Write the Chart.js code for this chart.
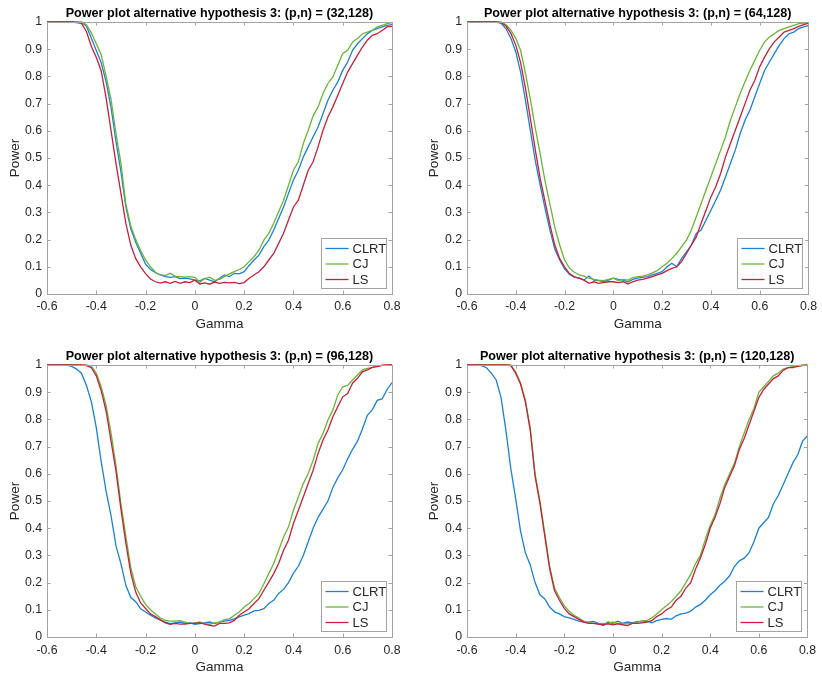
<!DOCTYPE html>
<html>
<head>
<meta charset="utf-8">
<script src="https://cdn.jsdelivr.net/npm/chart.js@4.4.1/dist/chart.umd.min.js"></script>
<style>
  html, body { margin: 0; padding: 0; background: #fff; overflow: hidden; }
  canvas { position: absolute; }
</style>
</head>
<body>
<canvas id="c1" width="411" height="337" style="left:0;top:0"></canvas>
<canvas id="c2" width="411" height="337" style="left:411px;top:0"></canvas>
<canvas id="c3" width="411" height="338" style="left:0;top:337px"></canvas>
<canvas id="c4" width="411" height="338" style="left:411px;top:337px"></canvas>
<script>
// gamma grid, -0.6 .. 0.8
const gamma = [-0.60,-0.58,-0.56,-0.54,-0.52,-0.50,-0.48,-0.46,-0.44,-0.42,-0.40,-0.38,-0.36,-0.34,-0.32,-0.30,-0.28,-0.26,-0.24,-0.22,-0.20,-0.18,-0.16,-0.14,-0.12,-0.10,-0.08,-0.06,-0.04,-0.02,0.00,0.02,0.04,0.06,0.08,0.10,0.12,0.14,0.16,0.18,0.20,0.22,0.24,0.26,0.28,0.30,0.32,0.34,0.36,0.38,0.40,0.42,0.44,0.46,0.48,0.50,0.52,0.54,0.56,0.58,0.60,0.62,0.64,0.66,0.68,0.70,0.72,0.74,0.76,0.78,0.80];

const seriesNames = ['CLRT', 'CJ', 'LS'];
const xTicks = [-0.6, -0.4, -0.2, 0, 0.2, 0.4, 0.6, 0.8];
const yTicks = [0, 0.1, 0.2, 0.3, 0.4, 0.5, 0.6, 0.7, 0.8, 0.9, 1];

// (p,n) = (32,128)
const clrt32 = [1,1,1,1,1,1,1,.998,.985,.94,.895,.85,.78,.685,.56,.45,.32,.24,.19,.15,.11,.09,.078,.07,.064,.061,.064,.057,.058,.056,.051,.048,.057,.051,.045,.058,.07,.064,.076,.074,.082,.105,.125,.143,.174,.198,.235,.278,.32,.37,.419,.455,.504,.541,.578,.614,.663,.712,.749,.78,.822,.853,.896,.92,.939,.957,.969,.976,.982,.988,.99];
const cj32 = [1,1,1,1,1,1,1,1,.99,.96,.92,.88,.80,.715,.59,.48,.33,.25,.2,.16,.125,.1,.08,.07,.068,.076,.066,.064,.062,.064,.061,.043,.057,.062,.05,.054,.064,.074,.082,.09,.1,.119,.137,.161,.198,.223,.26,.302,.345,.4,.455,.486,.553,.602,.655,.688,.737,.774,.798,.841,.884,.896,.927,.939,.957,.963,.969,.982,.988,.994,.998];
const ls32 = [1,1,1,1,1,1,.998,.995,.965,.91,.87,.82,.72,.60,.48,.37,.26,.18,.13,.1,.075,.055,.045,.04,.045,.039,.046,.039,.045,.042,.051,.037,.041,.036,.044,.039,.043,.041,.043,.038,.042,.058,.07,.082,.1,.125,.149,.186,.223,.272,.32,.345,.4,.455,.486,.541,.602,.651,.688,.731,.774,.816,.847,.878,.908,.933,.951,.957,.969,.982,.984];

// (p,n) = (64,128)
const clrt64 = [1,1,1,1,1,1,1,.995,.975,.94,.89,.815,.71,.6,.49,.4,.315,.235,.165,.125,.092,.073,.062,.058,.051,.066,.051,.049,.045,.051,.058,.054,.051,.045,.054,.058,.061,.064,.07,.076,.082,.1,.113,.1,.131,.155,.18,.223,.235,.272,.308,.345,.382,.431,.48,.529,.59,.639,.676,.725,.774,.822,.853,.884,.914,.939,.957,.963,.976,.982,.988];
const cj64 = [1,1,1,1,1,1,1,1,.99,.97,.94,.895,.81,.715,.61,.515,.415,.33,.245,.18,.125,.095,.08,.07,.066,.058,.054,.051,.049,.054,.058,.049,.054,.051,.06,.064,.066,.07,.078,.086,.1,.113,.131,.149,.174,.198,.235,.284,.333,.382,.431,.48,.529,.578,.639,.688,.737,.78,.822,.859,.896,.927,.945,.957,.969,.976,.982,.988,.994,.996,.998];
const ls64 = [1,1,1,1,1,1,1,.998,.985,.958,.915,.85,.755,.645,.53,.425,.34,.255,.18,.13,.1,.075,.063,.058,.051,.039,.045,.039,.042,.045,.045,.042,.045,.037,.045,.051,.054,.058,.064,.07,.076,.086,.094,.1,.119,.149,.18,.21,.26,.308,.357,.394,.443,.504,.553,.602,.651,.7,.749,.786,.835,.871,.902,.927,.945,.963,.969,.976,.984,.99,.996];

// (p,n) = (96,128)
const clrt96 = [1,1,1,1,1,.995,.985,.97,.925,.865,.77,.645,.535,.445,.335,.27,.19,.145,.13,.104,.092,.08,.07,.062,.055,.049,.052,.055,.049,.052,.047,.049,.052,.055,.049,.055,.058,.061,.067,.074,.08,.086,.096,.098,.104,.123,.135,.16,.175,.2,.235,.26,.3,.35,.4,.44,.47,.5,.55,.585,.615,.655,.69,.72,.765,.815,.835,.87,.875,.91,.935];
const cj96 = [1,1,1,1,1,1,1,1,1,.995,.97,.92,.85,.75,.63,.49,.37,.255,.185,.15,.12,.1,.085,.07,.061,.058,.058,.06,.055,.049,.052,.055,.049,.047,.052,.055,.064,.067,.08,.092,.11,.123,.141,.16,.196,.233,.27,.319,.368,.405,.466,.515,.564,.601,.65,.712,.748,.798,.834,.89,.92,.925,.945,.963,.982,.988,.991,.996,.999,1,1];
const ls96 = [1,1,1,1,1,1,1,1,.998,.99,.96,.905,.83,.72,.61,.47,.345,.235,.165,.125,.105,.085,.075,.063,.052,.047,.05,.047,.047,.05,.05,.052,.047,.043,.04,.05,.05,.052,.061,.08,.092,.104,.123,.141,.172,.202,.233,.27,.319,.356,.417,.466,.515,.564,.613,.675,.724,.761,.81,.847,.883,.895,.933,.951,.975,.982,.991,.994,.999,1,1];

// (p,n) = (120,128)
const clrt120 = [1,1,1,.998,.99,.97,.945,.88,.76,.62,.51,.39,.31,.265,.2,.155,.14,.11,.092,.085,.075,.07,.065,.058,.055,.055,.057,.05,.042,.055,.05,.058,.05,.055,.052,.057,.055,.058,.052,.06,.065,.068,.065,.078,.085,.088,.095,.11,.12,.135,.155,.17,.19,.205,.225,.26,.28,.29,.31,.35,.40,.42,.44,.49,.52,.56,.60,.64,.67,.72,.74];
const cj120 = [1,1,1,1,1,1,1,1,1,1,.975,.935,.87,.77,.6,.5,.38,.26,.18,.145,.115,.095,.08,.07,.058,.052,.05,.048,.05,.05,.055,.05,.05,.048,.05,.055,.06,.06,.07,.085,.1,.115,.13,.15,.17,.2,.23,.27,.3,.36,.41,.45,.51,.56,.6,.64,.7,.75,.8,.84,.9,.92,.94,.96,.97,.985,.99,.995,.997,1,1];
const ls120 = [1,1,1,1,1,1,1,1,1,.998,.97,.93,.865,.76,.59,.49,.37,.25,.17,.135,.105,.085,.075,.065,.055,.05,.05,.047,.045,.048,.045,.048,.045,.042,.05,.05,.052,.055,.06,.075,.085,.1,.11,.135,.15,.18,.2,.25,.29,.34,.4,.44,.49,.55,.59,.63,.69,.73,.78,.83,.88,.91,.93,.95,.96,.98,.99,.99,.995,.998,1];

const colors = ['#1f7fd0', '#6cb33c', '#c0233a'];
const FONT = "'Liberation Sans', Arial, Helvetica, sans-serif";

const toPoints = (vals) => vals.map((v, i) => ({ x: gamma[i], y: v }));
const fmt = (v) => String(Math.round(v * 10) / 10);

// axes box, inward ticks, and a MATLAB-like legend inside the axes
const matlabAxes = {
  id: 'matlabAxes',
  afterDatasetsDraw(chart) {
    const { ctx, chartArea: a, scales } = chart;
    const t = 3.5;
    ctx.save();
    ctx.strokeStyle = '#a3a3a3';
    ctx.lineWidth = 1;
    ctx.beginPath();
    xTicks.forEach(v => {
      const px = Math.round(scales.x.getPixelForValue(v)) + 0.5;
      ctx.moveTo(px, a.bottom); ctx.lineTo(px, a.bottom - t);
      ctx.moveTo(px, a.top); ctx.lineTo(px, a.top + t);
    });
    yTicks.forEach(v => {
      const py = Math.round(scales.y.getPixelForValue(v)) + 0.5;
      ctx.moveTo(a.left, py); ctx.lineTo(a.left + t, py);
      ctx.moveTo(a.right, py); ctx.lineTo(a.right - t, py);
    });
    ctx.stroke();
    ctx.strokeRect(Math.round(a.left) + 0.5, Math.round(a.top) + 0.5,
      Math.round(a.right - a.left), Math.round(a.bottom - a.top));

    // legend
    const w = 65, h = 50;
    const lx = Math.round(a.right - 6 - w) + 0.5;
    const ly = Math.round(a.bottom - 6 - h) + 0.5;
    ctx.fillStyle = '#fff';
    ctx.fillRect(lx, ly, w, h);
    ctx.strokeStyle = '#a3a3a3';
    ctx.strokeRect(lx, ly, w, h);
    ctx.font = '13px ' + FONT;
    ctx.textBaseline = 'middle';
    chart.data.datasets.forEach((ds, i) => {
      const y = ly + 10 + i * 15.5;
      ctx.strokeStyle = ds.borderColor;
      ctx.lineWidth = 1.3;
      ctx.beginPath();
      ctx.moveTo(lx + 4, y); ctx.lineTo(lx + 27, y);
      ctx.stroke();
      ctx.fillStyle = '#262626';
      ctx.fillText(ds.label, lx + 31, y + 0.5);
    });
    ctx.restore();
  }
};

function makeChart(id, title, series, L) {
  const datasets = series.map((vals, i) => ({
    label: seriesNames[i],
    data: toPoints(vals),
    borderColor: colors[i],
    borderWidth: 1.3,
    pointRadius: 0,
    tension: 0,
    clip: false,
    order: 3 - i
  }));
  return new Chart(document.getElementById(id), {
    type: 'line',
    data: { datasets },
    plugins: [matlabAxes],
    options: {
      responsive: false,
      animation: false,
      layout: { padding: { left: 0, right: L.padRight, top: 0, bottom: 0 } },
      plugins: {
        legend: { display: false },
        tooltip: { enabled: false },
        title: {
          display: true,
          text: title,
          fullSize: false,
          color: '#000',
          font: { family: FONT, size: 12.6, weight: 'bold', lineHeight: 1.2 },
          padding: { top: L.titleTop, bottom: L.chartTop - L.titleTop - 15.12 }
        }
      },
      scales: {
        x: {
          type: 'linear',
          min: -0.6, max: 0.8,
          grid: { display: false, drawTicks: false },
          border: { display: false },
          afterFit: (s) => { s.height = L.xHeight; },
          ticks: {
            stepSize: 0.2,
            padding: L.xTickPad,
            color: '#262626',
            font: { family: FONT, size: 12.3 },
            callback: fmt
          },
          title: {
            display: true,
            text: 'Gamma',
            color: '#262626',
            font: { family: FONT, size: 13.5, lineHeight: 1.2 },
            padding: { top: 0, bottom: L.gammaPad }
          }
        },
        y: {
          type: 'linear',
          min: 0, max: 1,
          grid: { display: false, drawTicks: false },
          border: { display: false },
          afterFit: (s) => { s.width = L.yWidth; },
          ticks: {
            stepSize: 0.1,
            padding: 5,
            color: '#262626',
            font: { family: FONT, size: 12.3 },
            callback: fmt
          },
          title: {
            display: true,
            text: 'Power',
            color: '#262626',
            font: { family: FONT, size: 13.5, lineHeight: 1.2 },
            padding: { top: L.powerPad, bottom: 0 }
          }
        }
      }
    }
  });
}

const topLeft = { yWidth: 47, padRight: 19, xHeight: 43, chartTop: 22, titleTop: 6, xTickPad: 5, gammaPad: 5, powerPad: 7 };
const topRight = { yWidth: 56, padRight: 9, xHeight: 43, chartTop: 22, titleTop: 6, xTickPad: 5, gammaPad: 5, powerPad: 15 };
const botLeft = { yWidth: 47, padRight: 19, xHeight: 38, chartTop: 28, titleTop: 12, xTickPad: 6, gammaPad: 0, powerPad: 7 };
const botRight = { yWidth: 56, padRight: 9, xHeight: 38, chartTop: 28, titleTop: 12, xTickPad: 6, gammaPad: 0, powerPad: 15 };

makeChart('c1', 'Power plot alternative hypothesis 3: (p,n) = (32,128)', [clrt32, cj32, ls32], topLeft);
makeChart('c2', 'Power plot alternative hypothesis 3: (p,n) = (64,128)', [clrt64, cj64, ls64], topRight);
makeChart('c3', 'Power plot alternative hypothesis 3: (p,n) = (96,128)', [clrt96, cj96, ls96], botLeft);
makeChart('c4', 'Power plot alternative hypothesis 3: (p,n) = (120,128)', [clrt120, cj120, ls120], botRight);
</script>
</body>
</html>
